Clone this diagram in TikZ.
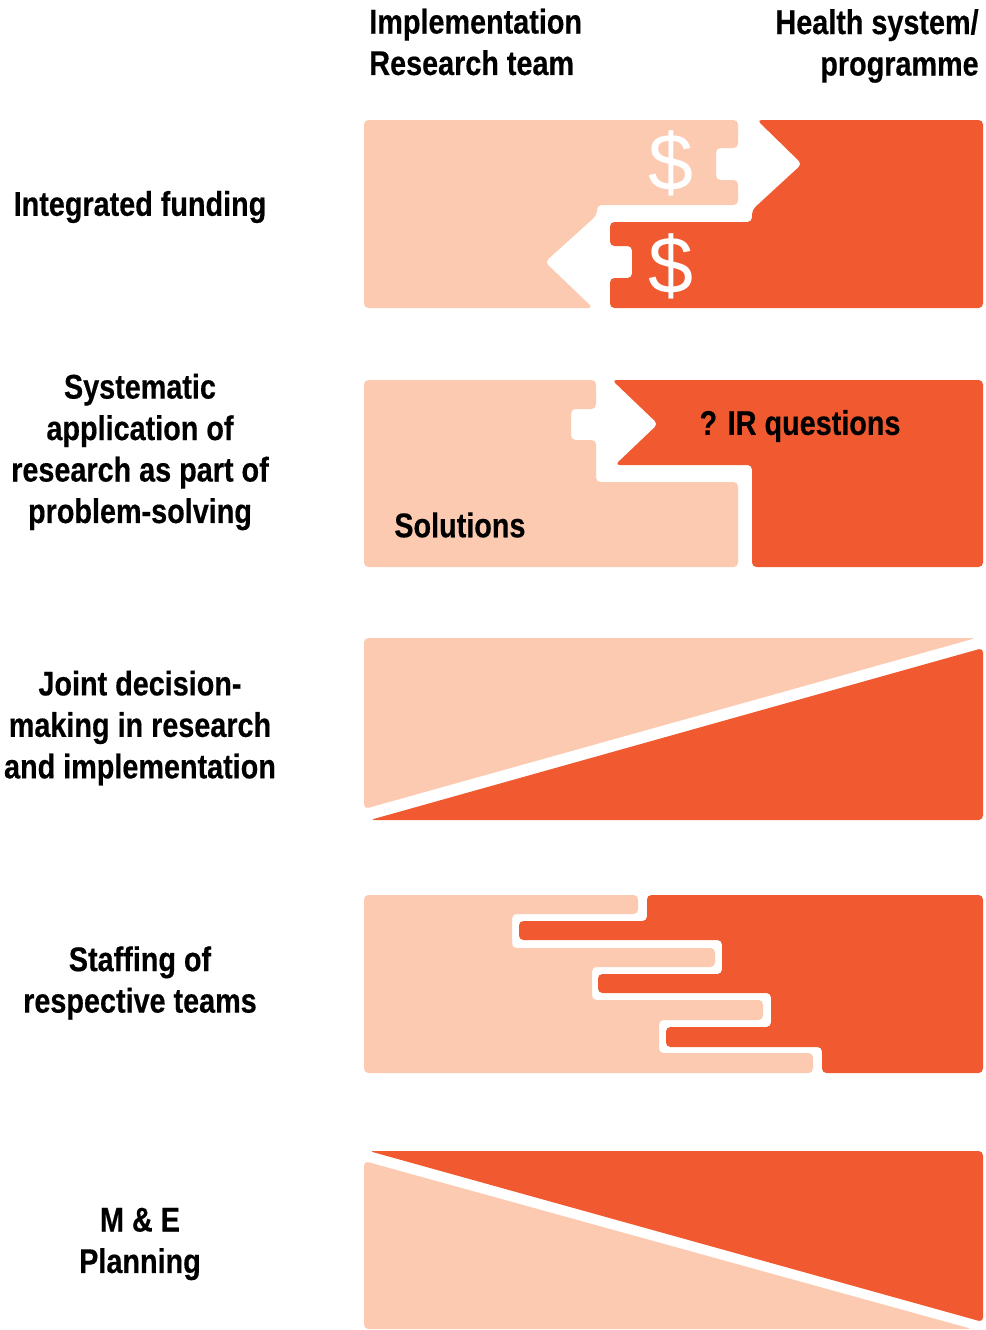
\documentclass[tikz,border=0pt]{standalone}
\usepackage{fontspec}
\setmainfont{Liberation Sans}
\newfontfamily\condfont[FakeStretch=0.84,BoldFeatures={FakeBold=0.4}]{Liberation Sans}
\definecolor{irlight}{HTML}{FBCAB1}
\definecolor{hsdark}{HTML}{F15A30}

\begin{document}
\begin{tikzpicture}[
    x=0.02cm,
    y=-0.02cm,
    font=\condfont\bfseries\fontsize{19.5}{23.6}\selectfont,
    light/.style={
        fill=irlight,
        rounded corners=2.5pt
    },
    dark/.style={
        fill=hsdark,
        rounded corners=2.5pt
    },
    rowlabel/.style={
        align=center,
        inner sep=0pt
    },
    head/.style={
        inner sep=0pt
    },
    dollar/.style={
        text=white,
        inner sep=0pt,
        font=\normalfont\fontsize{46}{46}\selectfont
    }
]

\useasboundingbox (0,0) rectangle (985,1330);

% ============================================================
% Column heads
% ============================================================

\node[head, anchor=west, align=left]  (irteam) at (369,42)
    {Implementation\\Research team};
\node[head, anchor=east, align=right] (hsprog) at (979,46)
    {Health system/\\programme};

% ============================================================
% Row labels
% ============================================================

\foreach \name/\y/\txt in {
    fund/207/{Integrated funding},
    apply/452/{Systematic\\application of\\research as part of\\problem-solving},
    joint/728/{Joint decision-\\making in research\\and implementation},
    staff/983/{Staffing of\\respective teams},
    mande/1244/{M \& E\\Planning}} {
    \node[rowlabel] (\name) at (140,\y) {\txt};
}

% ============================================================
% Row 1: funding flows both ways
% ============================================================

\fill[light] (364,120) -- (738,120) -- (738,148) -- (716,148) -- (716,180)
    -- (738,180) -- (738,205) -- (597,205) -- (597,215) -- (545,262)
    -- (593,308) -- (364,308) -- cycle;
\fill[dark] (757,120) -- (983,120) -- (983,308) -- (610,308) -- (610,278)
    -- (632,278) -- (632,246) -- (610,246) -- (610,222) -- (752,222)
    -- (752,210) -- (802,164) -- cycle;

\node[dollar] (usdout) at (671,163) {\$};
\node[dollar] (usdin)  at (671,266) {\$};

% ============================================================
% Row 2: questions in, solutions out
% ============================================================

\fill[light] (364,380) -- (596,380) -- (596,409) -- (571,409) -- (571,440)
    -- (596,440) -- (596,482) -- (738,482) -- (738,567) -- (364,567) -- cycle;
\fill[dark] (612,380) -- (983,380) -- (983,567) -- (752,567) -- (752,465)
    -- (615,465) -- (658,424) -- cycle;

\node[head] (irq) at (800,426) {? IR questions};
\node[head, anchor=west] (sol) at (394,525) {Solutions};

% ============================================================
% Row 3: joint decisions
% ============================================================

\fill[light] (364,638) -- (976,638) -- (364,809) -- cycle;
\fill[dark]  (370,820) -- (983,820) -- (983,648) -- cycle;

% ============================================================
% Row 4: interlocking staff
% ============================================================

\fill[light] (364,895) -- (638,895) -- (638,914) -- (512,914) -- (512,948)
    -- (715,948) -- (715,967) -- (592,967) -- (592,1000) -- (763,1000)
    -- (763,1020) -- (659,1020) -- (659,1053) -- (813,1053) -- (813,1073)
    -- (364,1073) -- cycle;
\fill[dark] (647,895) -- (983,895) -- (983,1073) -- (822,1073) -- (822,1047)
    -- (666,1047) -- (666,1027) -- (771,1027) -- (771,993) -- (598,993)
    -- (598,974) -- (722,974) -- (722,940) -- (519,940) -- (519,921)
    -- (647,921) -- cycle;

% ============================================================
% Row 5: M & E planning
% ============================================================

\fill[dark]  (369,1151) -- (983,1151) -- (983,1322) -- cycle;
\fill[light] (364,1161) -- (972,1329) -- (364,1329) -- cycle;

\end{tikzpicture}
\end{document}
